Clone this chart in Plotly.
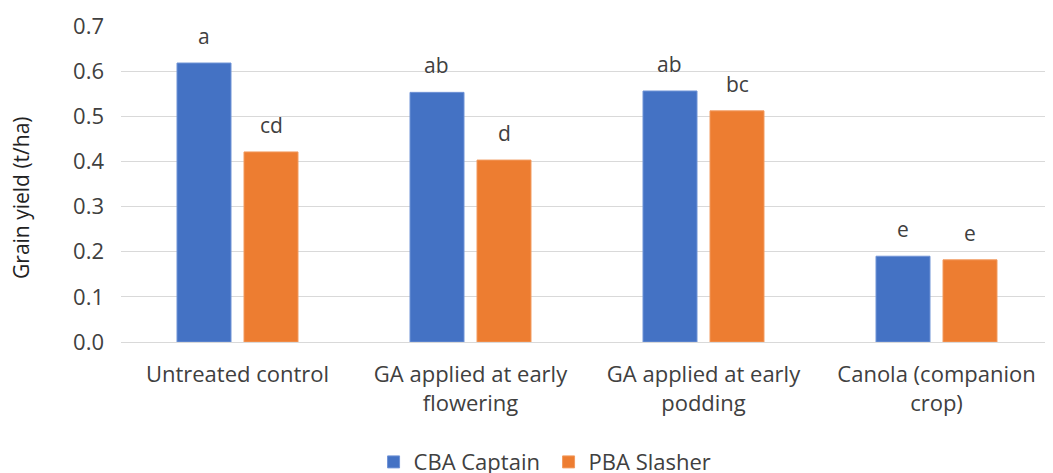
import plotly.graph_objects as go

categories = ["Untreated control", "GA applied at early<br>flowering", "GA applied at early<br>podding", "Canola (companion<br>crop)"]
cba_captain = [0.618, 0.553, 0.556, 0.190]
pba_slasher = [0.421, 0.403, 0.512, 0.182]
cba_letters = ["a", "ab", "ab", "e"]
pba_letters = ["cd", "d", "bc", "e"]
y_ticks = [0.0, 0.1, 0.2, 0.3, 0.4, 0.5, 0.6, 0.7]

FONT = "Open Sans, sans-serif"
TXT = "#404040"

fig = go.Figure()
fig.add_trace(go.Bar(name="CBA Captain", x=categories, y=cba_captain,
                     marker=dict(color="#4472C4", line=dict(color="#6f93d6", width=1))))
fig.add_trace(go.Bar(name="PBA Slasher", x=categories, y=pba_slasher,
                     marker=dict(color="#ED7D31", line=dict(color="#f29a5e", width=1))))

# significance letters above bars
for i, (v, t) in enumerate(zip(cba_captain, cba_letters)):
    fig.add_annotation(x=i - 0.144, y=v, xref="x", yref="y", text=t, showarrow=False,
                       yanchor="bottom", yshift=11, font=dict(size=21, color=TXT, family=FONT))
for i, (v, t) in enumerate(zip(pba_slasher, pba_letters)):
    fig.add_annotation(x=i + 0.144, y=v, xref="x", yref="y", text=t, showarrow=False,
                       yanchor="bottom", yshift=11, font=dict(size=21, color=TXT, family=FONT))

# y-axis title
fig.add_annotation(x=-0.1073, y=0.459, xref="paper", yref="paper", text="Grain yield (t/ha)",
                   textangle=-90, showarrow=False, xanchor="center", yanchor="middle",
                   font=dict(size=21, color="#222222", family=FONT))

fig.update_layout(
    width=1045, height=465,
    margin=dict(l=113, r=0, t=18, b=131, autoexpand=False),
    paper_bgcolor="white", plot_bgcolor="white",
    barmode="group", bargap=0.425, bargroupgap=0.194,
    font=dict(family=FONT, size=21, color=TXT),
    showlegend=True,
    legend=dict(orientation="h", x=0.271, xanchor="left", y=-0.38, yanchor="middle",
                font=dict(size=22, color=TXT, family=FONT), itemwidth=30,
                entrywidth=130, entrywidthmode="pixels",
                traceorder="normal"),
    xaxis=dict(type="category", showgrid=False, showline=False, ticks="", automargin=False,
               ticklabelstandoff=17,
               tickfont=dict(size=22, color=TXT, family=FONT), range=[-0.5, 3.5]),
    yaxis=dict(range=[0, 0.7], tickvals=y_ticks, tickformat=".1f", automargin=False,
               showgrid=True, gridcolor="#d9d9d9", gridwidth=1,
               zeroline=True, zerolinecolor="#d9d9d9", zerolinewidth=1,
               showline=False, ticks="", ticklen=0, ticklabelstandoff=16,
               tickfont=dict(size=22, color=TXT, family=FONT)),
)

fig.write_html("out.html")
